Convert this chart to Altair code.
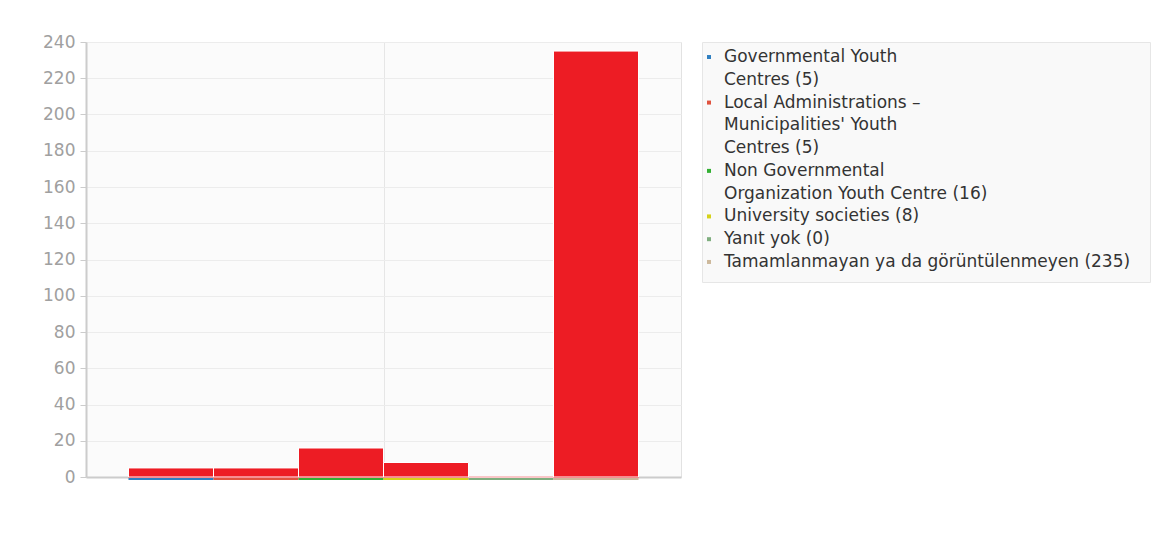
import altair as alt
import pandas as pd

categories = [
    "Governmental Youth Centres",
    "Local Administrations – Municipalities' Youth Centres",
    "Non Governmental Organization Youth Centre",
    "University societies",
    "Yanıt yok",
    "Tamamlanmayan ya da görüntülenmeyen",
]
values = [5, 5, 16, 8, 0, 235]
series_colors = ["#2f7fc1", "#e0533f", "#33b033", "#d6d21a", "#7fae7f", "#cdb99c"]
bar_color = "#ed1c24"

legend_lines = [
    "Governmental Youth",
    "Centres (5)",
    "Local Administrations –",
    "Municipalities' Youth",
    "Centres (5)",
    "Non Governmental",
    "Organization Youth Centre (16)",
    "University societies (8)",
    "Yanıt yok (0)",
    "Tamamlanmayan ya da görüntülenmeyen (235)",
]
legend_symbol_series = [0, None, 1, None, None, 2, None, 3, 4, 5]

FONT = "DejaVu Sans"

bars = pd.DataFrame({
    "category": categories,
    "value": values,
    "x0": [i + 0.5 for i in range(len(values))],
    "x1": [i + 1.5 for i in range(len(values))],
    "zero": [0] * len(values),
    "color": series_colors,
})

xscale = alt.Scale(domain=[0, 7], nice=False, zero=False)
xaxis = alt.Axis(values=[3.5], labels=False, ticks=False, title=None, grid=True,
                 gridColor="#e6e6e6", domainColor="#cccccc", domainWidth=2)
yscale = alt.Scale(domain=[0, 240], nice=False)
yaxis = alt.Axis(values=list(range(0, 241, 20)), title=None, labelColor="#a0a0a0",
                 labelFontSize=17, labelFont=FONT, labelPadding=5, tickColor="#cccccc",
                 tickSize=6, domainColor="#cccccc", domainWidth=2, gridColor="#ececec")

base = alt.Chart(bars)

bar_layer = base.mark_bar(color=bar_color, stroke="white", strokeWidth=1).encode(
    x=alt.X("x0:Q", scale=xscale, axis=xaxis),
    x2="x1:Q",
    y=alt.Y("value:Q", scale=yscale, axis=yaxis),
    y2="zero:Q",
)
red_base = base.mark_rule(color=bar_color, strokeWidth=2).encode(
    x=alt.X("x0:Q", scale=xscale, axis=xaxis),
    x2="x1:Q",
    y=alt.Y("zero:Q", scale=yscale, axis=yaxis),
)
color_line = base.mark_rule(strokeWidth=2, yOffset=2).encode(
    x=alt.X("x0:Q", scale=xscale, axis=xaxis),
    x2="x1:Q",
    y=alt.Y("zero:Q", scale=yscale, axis=yaxis),
    color=alt.Color("color:N", scale=None),
)

main = alt.layer(red_base, bar_layer, color_line).properties(
    width=595, height=435,
    view=alt.ViewBackground(fill="#fbfbfb", stroke="#e2e2e2"),
)

leg = pd.DataFrame({
    "row": list(range(len(legend_lines))),
    "line": legend_lines,
    "sym": [series_colors[s] if s is not None else None for s in legend_symbol_series],
})
lscale = alt.Scale(domain=[-0.66, 9.88], reverse=True, nice=False, zero=False)
lbase = alt.Chart(leg)
ltext = lbase.mark_text(align="left", baseline="middle", font=FONT, fontSize=17,
                        color="#333333").encode(
    x=alt.value(22),
    y=alt.Y("row:Q", scale=lscale, axis=None),
    text="line:N",
)
lsym = lbase.transform_filter("datum.sym != null").mark_square(size=16, opacity=1).encode(
    x=alt.value(7),
    y=alt.Y("row:Q", scale=lscale, axis=None),
    color=alt.Color("sym:N", scale=None),
)
legend = alt.layer(lsym, ltext).properties(
    width=448, height=240,
    view=alt.ViewBackground(fill="#f9f9f9", stroke="#e6e6e6"),
)

chart = alt.hconcat(main, legend, spacing=19).resolve_scale(
    x="independent", y="independent", color="independent"
).properties(
    padding={"left": 34, "top": 24, "right": 0, "bottom": 0},
    background="white",
)

chart.save("out.html", embed_options={"renderer": "svg", "actions": False})
